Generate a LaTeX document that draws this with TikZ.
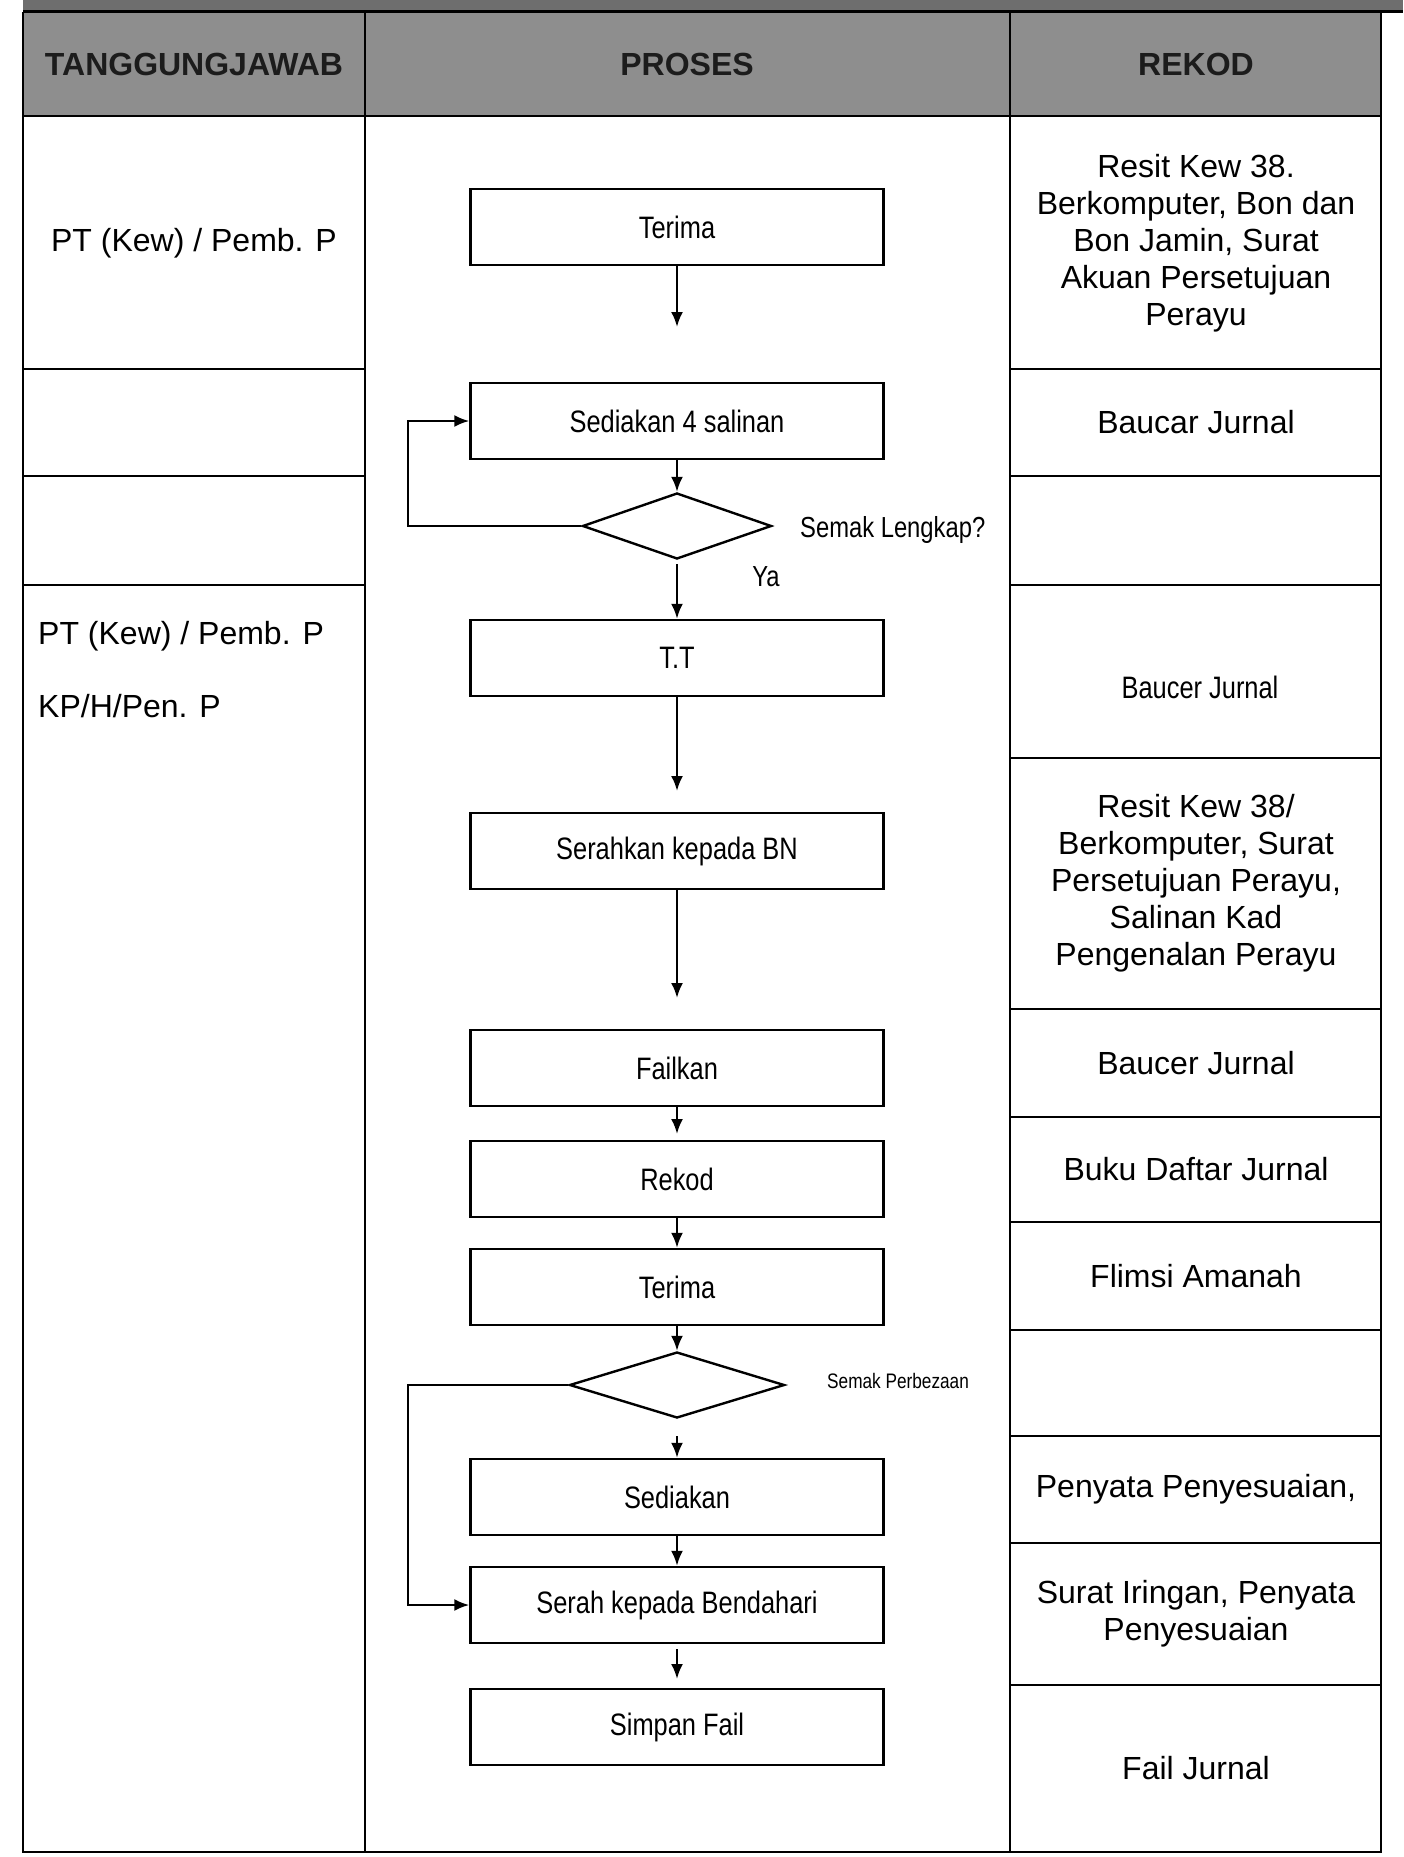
\documentclass[tikz,border=0pt]{standalone}
\usepackage{fontspec}
\setmainfont{Liberation Sans}
\newfontfamily\narrowfont[FakeStretch=0.82]{Liberation Sans}
\usetikzlibrary{arrows.meta,shapes.geometric}
\definecolor{hdrgray}{RGB}{142,142,142}
\definecolor{bandgray}{RGB}{110,110,110}
\definecolor{hdrtext}{RGB}{28,28,28}
\begin{document}
\begin{tikzpicture}[x=1pt,y=-1pt,
  tbl/.style={line width=1.8pt},
  procbox/.style={draw, line width=2.4pt, minimum width=413pt, minimum height=76pt, inner sep=0pt,
    font=\narrowfont\fontsize{31}{36}\selectfont},
  decision/.style={draw, line width=2.4pt, diamond, inner sep=0pt, minimum height=66pt},
  arr/.style={line width=2.4pt, -{Latex[length=15pt,width=12pt]}},
  hdr/.style={inner sep=0pt, text=hdrtext, font=\bfseries\fontsize{32}{36}\selectfont},
  txt/.style={inner sep=0pt, font=\fontsize{32}{37}\selectfont},
  ntxt/.style={inner sep=0pt, font=\narrowfont\fontsize{31}{36}\selectfont},
  lbl/.style={inner sep=0pt, font=\narrowfont\fontsize{29}{34}\selectfont},
  lblsmall/.style={inner sep=0pt, font=\narrowfont\fontsize{21}{25}\selectfont}]
\useasboundingbox (0,0) rectangle (1403,1857);
\fill[white] (0,0) rectangle (1403,1857);
% header band
\fill[bandgray] (23,0) rectangle (1403,12);
\fill[hdrgray] (23,12) rectangle (1381,116);
\draw[line width=3pt] (23,12) -- (1403,12);
\draw[line width=2.5pt] (23,116) -- (1381,116);
% frame and columns
\draw[tbl] (23,12) -- (23,1852) -- (1381,1852) -- (1381,12);
\draw[tbl] (365,12) -- (365,1852);
\draw[tbl] (1010,12) -- (1010,1852);
\foreach \y in {369,476,585} \draw[tbl] (23,\y) -- (365,\y);
\foreach \y in {369,476,585,758,1009,1117,1222,1330,1436,1543,1685} \draw[tbl] (1010,\y) -- (1381,\y);
% header texts
\node[hdr] (hA) at (194,64) {TANGGUNGJAWAB};
\node[hdr] (hB) at (687,64) {PROSES};
\node[hdr] (hC) at (1196,64) {REKOD};
% left column
\node[txt] (l1) at (194,243) {PT (Kew) / Pemb. P};
\node[txt, anchor=west] (l2) at (38,636) {PT (Kew) / Pemb. P};
\node[txt, anchor=west] (l3) at (38,706) {KP/H/Pen. P};
% right column
\node[txt, align=center] (r1) at (1196,243) {Resit Kew 38.\\Berkomputer, Bon dan\\Bon Jamin, Surat\\Akuan Persetujuan\\Perayu};
\node[txt] (r2) at (1196,422) {Baucar Jurnal};
\node[ntxt] (r4) at (1200,687) {Baucer Jurnal};
\node[txt, align=center] (r5) at (1196,883) {Resit Kew 38/\\Berkomputer, Surat\\Persetujuan Perayu,\\Salinan Kad\\Pengenalan Perayu};
\node[txt] (r6) at (1196,1063) {Baucer Jurnal};
\node[txt] (r7) at (1196,1169) {Buku Daftar Jurnal};
\node[txt] (r8) at (1196,1276) {Flimsi Amanah};
\node[txt] (r10) at (1196,1489) {Penyata Penyesuaian,};
\node[txt, align=center] (r11) at (1196,1614) {Surat Iringan, Penyata\\Penyesuaian};
\node[txt] (r12) at (1196,1768) {Fail Jurnal};
% process
\node[procbox] (p1) at (677,227) {Terima};
\node[procbox] (p2) at (677,421) {Sediakan 4 salinan};
\node[decision, minimum width=189pt] (d1) at (677,526) {};
\node[procbox] (p3) at (677,658) {T.T};
\node[procbox] (p4) at (677,851) {Serahkan kepada BN};
\node[procbox] (p5) at (677,1068) {Failkan};
\node[procbox] (p6) at (677,1179) {Rekod};
\node[procbox] (p7) at (677,1287) {Terima};
\node[decision, minimum width=215pt] (d2) at (677,1385) {};
\node[procbox] (p8) at (677,1497) {Sediakan};
\node[procbox] (p9) at (677,1605) {Serah kepada Bendahari};
\node[procbox] (p10) at (677,1727) {Simpan Fail};
% labels
\node[lbl, anchor=west] (q1) at (800,530) {Semak Lengkap?};
\node[lbl] (ya) at (766,577) {Ya};
\node[lblsmall, anchor=west] (q2) at (827,1381) {Semak Perbezaan};
% arrows
\coordinate (a1) at (677,327);
\coordinate (a3) at (677,791);
\coordinate (a4) at (677,998);
\coordinate (a5) at (677,1134);
\coordinate (a9) at (677,1679);
\coordinate (lp1) at (408,526);
\coordinate (lp2) at (408,1385);
\draw[arr] (p1.south) -- (a1);
\draw[arr] (p2.south) -- (d1.north);
\draw[arr, shorten <=4pt] (d1.south) -- (p3.north);
\draw[arr] (p3.south) -- (a3);
\draw[arr] (p4.south) -- (a4);
\draw[arr] (p5.south) -- (a5);
\draw[arr] (p6.south) -- (p7.north);
\draw[arr] (p7.south) -- (d2.north);
\draw[arr, shorten <=17pt] (d2.south) -- (p8.north);
\draw[arr] (p8.south) -- (p9.north);
\draw[arr, shorten <=5pt] (p9.south) -- (a9);
\draw[arr] (d1.west) -- (lp1) |- (p2.west);
\draw[arr] (d2.west) -- (lp2) |- (p9.west);
\end{tikzpicture}
\end{document}
